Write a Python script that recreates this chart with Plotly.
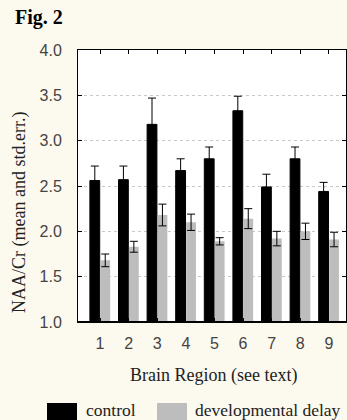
import plotly.graph_objects as go

regions = [1, 2, 3, 4, 5, 6, 7, 8, 9]
control_mean = [2.56, 2.57, 3.18, 2.67, 2.80, 3.33, 2.49, 2.80, 2.44]
control_err = [0.16, 0.15, 0.29, 0.13, 0.13, 0.16, 0.14, 0.13, 0.10]
delay_mean = [1.68, 1.83, 2.18, 2.10, 1.89, 2.14, 1.92, 2.00, 1.91]
delay_err = [0.07, 0.06, 0.12, 0.09, 0.04, 0.11, 0.08, 0.09, 0.08]
y_ticks = [1.0, 1.5, 2.0, 2.5, 3.0, 3.5, 4.0]

BG = "#fcf9ee"
GRAY = "#bdbdbd"
serif = "Liberation Serif, Times New Roman, serif"
sans = "Liberation Sans, Arial, sans-serif"

fig = go.Figure()
fig.add_trace(go.Bar(
    x=regions, y=control_mean, name="control",
    marker=dict(color="black", line=dict(color="black", width=1)),
    error_y=dict(type="data", array=control_err, visible=True,
                 color="black", thickness=1, width=4),
))
fig.add_trace(go.Bar(
    x=regions, y=delay_mean, name="developmental delay",
    marker=dict(color=GRAY, line=dict(width=0)),
    error_y=dict(type="data", array=delay_err, visible=True,
                 color="black", thickness=1, width=4),
))

fig.update_layout(
    width=347, height=420,
    margin=dict(l=78, r=1, t=50, b=98),
    paper_bgcolor=BG, plot_bgcolor="white",
    barmode="group", bargap=0.27, bargroupgap=0.06,
    showlegend=False,
    font=dict(family=sans, size=14, color="#444"),
)
fig.update_xaxes(
    range=[0.23, 9.6], tickvals=regions, ticktext=[str(r) for r in regions],
    ticks="inside", ticklen=4, tickcolor="black",
    showline=True, linecolor="black", linewidth=1, mirror="ticks",
    showgrid=False, zeroline=False,
    tickfont=dict(family=sans, size=16, color="#444"),
    ticklabelstandoff=7,
)
fig.update_yaxes(
    range=[1.0, 4.0], tickvals=y_ticks, ticktext=[f"{v:.1f}" for v in y_ticks],
    ticks="inside", ticklen=4, tickcolor="black",
    showline=True, linecolor="black", linewidth=1, mirror="ticks",
    showgrid=True, gridcolor="#c8c8c8", griddash="dot", gridwidth=1,
    zeroline=False,
    tickfont=dict(family=sans, size=16, color="#444"),
    ticklabelstandoff=12,
)
# thicker bottom axis line
fig.add_shape(type="line", xref="paper", yref="paper", x0=0, x1=1, y0=0, y1=0,
              line=dict(color="black", width=2))

def px_x(p):
    return (p - 78) / 268.0
def px_y(p):
    return (322 - p) / 272.0

# x title
fig.add_annotation(text="Brain Region (see text)", xref="paper", yref="paper",
                   x=px_x(213), y=px_y(375), xanchor="center", yanchor="middle", showarrow=False,
                   font=dict(family=serif, size=18, color="#222"))
# y title
fig.add_annotation(text="NAA/Cr (mean and std.err.)", xref="paper", yref="paper",
                   x=px_x(19), y=px_y(213), xanchor="center", yanchor="middle",
                   textangle=-90, showarrow=False,
                   font=dict(family=serif, size=18, color="#222"))
# Fig label
fig.add_annotation(text="<b>Fig. 2</b>", xref="paper", yref="paper",
                   x=px_x(13), y=px_y(18), xanchor="left", yanchor="middle", showarrow=False,
                   font=dict(family=serif, size=20, color="black"))
# legend
fig.add_shape(type="rect", xref="paper", yref="paper",
              x0=px_x(47), x1=px_x(77), y0=px_y(403), y1=px_y(421),
              fillcolor="black", line=dict(width=0))
fig.add_shape(type="rect", xref="paper", yref="paper",
              x0=px_x(157), x1=px_x(187), y0=px_y(403), y1=px_y(421),
              fillcolor=GRAY, line=dict(width=0))
fig.add_annotation(text="control", xref="paper", yref="paper",
                   x=px_x(84), y=px_y(410), xanchor="left", yanchor="middle", showarrow=False,
                   font=dict(family=serif, size=17.5, color="#222"))
fig.add_annotation(text="developmental delay", xref="paper", yref="paper",
                   x=px_x(193), y=px_y(410), xanchor="left", yanchor="middle", showarrow=False,
                   font=dict(family=serif, size=17.5, color="#222"))

fig.write_html("out.html", config={"displayModeBar": False},
               post_script="document.body.style.margin='0';document.body.style.overflow='hidden';")
